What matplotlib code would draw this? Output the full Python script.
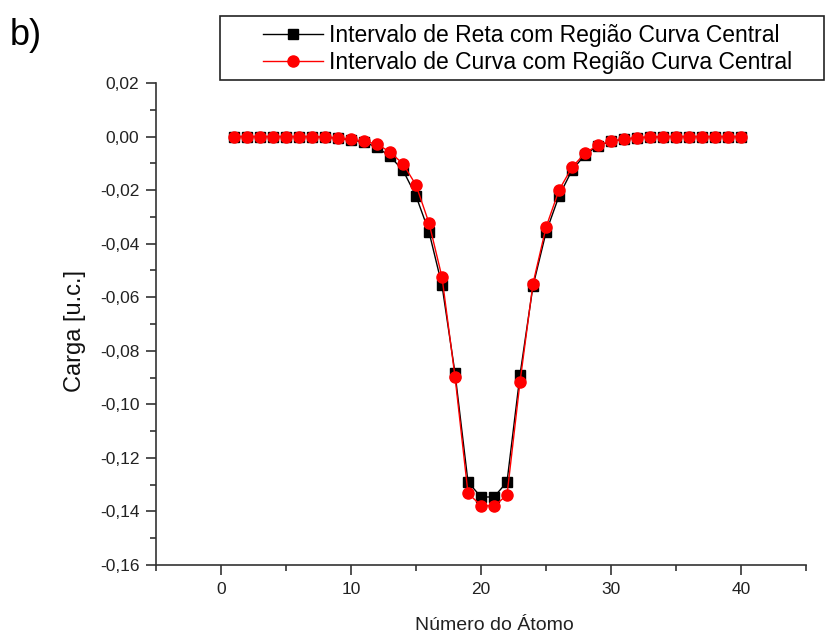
import matplotlib.pyplot as plt
from matplotlib.patches import Rectangle
from matplotlib.ticker import FixedLocator, FuncFormatter

plt.rcParams['font.family'] = ['Liberation Sans', 'DejaVu Sans']

# numero do atomo
atomo = list(range(1, 41))

# carga - intervalo de reta (preto, quadrados)
carga_reta = [0.0, 0.0, 0.0, 0.0, 0.0, 0.0, 0.0, -0.0002, -0.0006, -0.0012,
              -0.0021, -0.0040, -0.0074, -0.0126, -0.0222, -0.0356, -0.0556, -0.0883, -0.1290, -0.1346,
              -0.1346, -0.1290, -0.0890, -0.0558, -0.0358, -0.0222, -0.0126, -0.0068, -0.0034, -0.0018,
              -0.0010, -0.0005, -0.0002, 0.0, 0.0, 0.0, 0.0, 0.0, 0.0, 0.0]

# carga - intervalo de curva (vermelho, circulos)
carga_curva = [0.0, 0.0, 0.0, 0.0, 0.0, 0.0, 0.0, -0.0002, -0.0005, -0.0010,
               -0.0018, -0.0028, -0.0058, -0.0102, -0.0181, -0.0323, -0.0525, -0.0897, -0.1332, -0.1378,
               -0.1380, -0.1339, -0.0917, -0.0549, -0.0339, -0.0200, -0.0115, -0.0062, -0.0032, -0.0017,
               -0.0010, -0.0004, -0.0002, 0.0, 0.0, 0.0, 0.0, 0.0, 0.0, 0.0]

y_ticks = [0.02, 0.00, -0.02, -0.04, -0.06, -0.08, -0.10, -0.12, -0.14, -0.16]
x_ticks = [0, 10, 20, 30, 40]

W, H = 827, 634
fig = plt.figure(figsize=(W / 100, H / 100), dpi=100)
ax = fig.add_axes([156 / W, 69 / H, 650 / W, 482 / H])

ax.plot(atomo, carga_reta, color='black', lw=1, marker='s', ms=6.5,
        label='Intervalo de Reta com Região Curva Central')
ax.plot(atomo, carga_curva, color='red', lw=1, marker='o', ms=8,
        label='Intervalo de Curva com Região Curva Central')

ax.set_xlim(-5, 45)
ax.set_ylim(-0.16, 0.02)
ax.xaxis.set_major_locator(FixedLocator(x_ticks))
ax.xaxis.set_minor_locator(FixedLocator([-5, 5, 15, 25, 35, 45]))
ax.yaxis.set_major_locator(FixedLocator(y_ticks))
ax.yaxis.set_minor_locator(FixedLocator([0.01, -0.01, -0.03, -0.05, -0.07, -0.09, -0.11, -0.13, -0.15]))
ax.yaxis.set_major_formatter(FuncFormatter(lambda v, p: f"{v:.2f}".replace('.', ',').replace('-0,00', '0,00')))

for s in ['top', 'right']:
    ax.spines[s].set_visible(False)
for s in ['left', 'bottom']:
    ax.spines[s].set_color('#333333')
    ax.spines[s].set_linewidth(1.2)

ax.tick_params(which='major', direction='out', length=7, width=1.2, color='#333333',
               labelsize=12.5, labelcolor='#222222', pad=5)
ax.tick_params(which='minor', direction='out', length=4, width=1.2, color='#333333')

ax.set_xlabel('Número do Átomo', fontsize=14, color='#222222')
ax.xaxis.set_label_coords(0.52, -0.108)
ax.set_ylabel('Carga [u.c.]', fontsize=17, color='#111111')
ax.yaxis.set_label_coords(-0.108, 0.485)

# legenda sem moldura + moldura desenhada a parte
leg = fig.legend(loc='upper left', bbox_to_anchor=(263 / W, 1 - 24 / H),
                 fontsize=16.5, frameon=False, handlelength=2.6, handletextpad=0.3,
                 labelspacing=0.18, borderpad=0, borderaxespad=0)
fig.patches.append(Rectangle((220 / W, 1 - 80 / H), 604 / W, 64 / H, transform=fig.transFigure,
                             facecolor='white', edgecolor='#222222', lw=1.2, zorder=0))

fig.text(10 / W, 1 - 45 / H, 'b)', fontsize=26, color='black')

fig.savefig('out.png', dpi=100)
